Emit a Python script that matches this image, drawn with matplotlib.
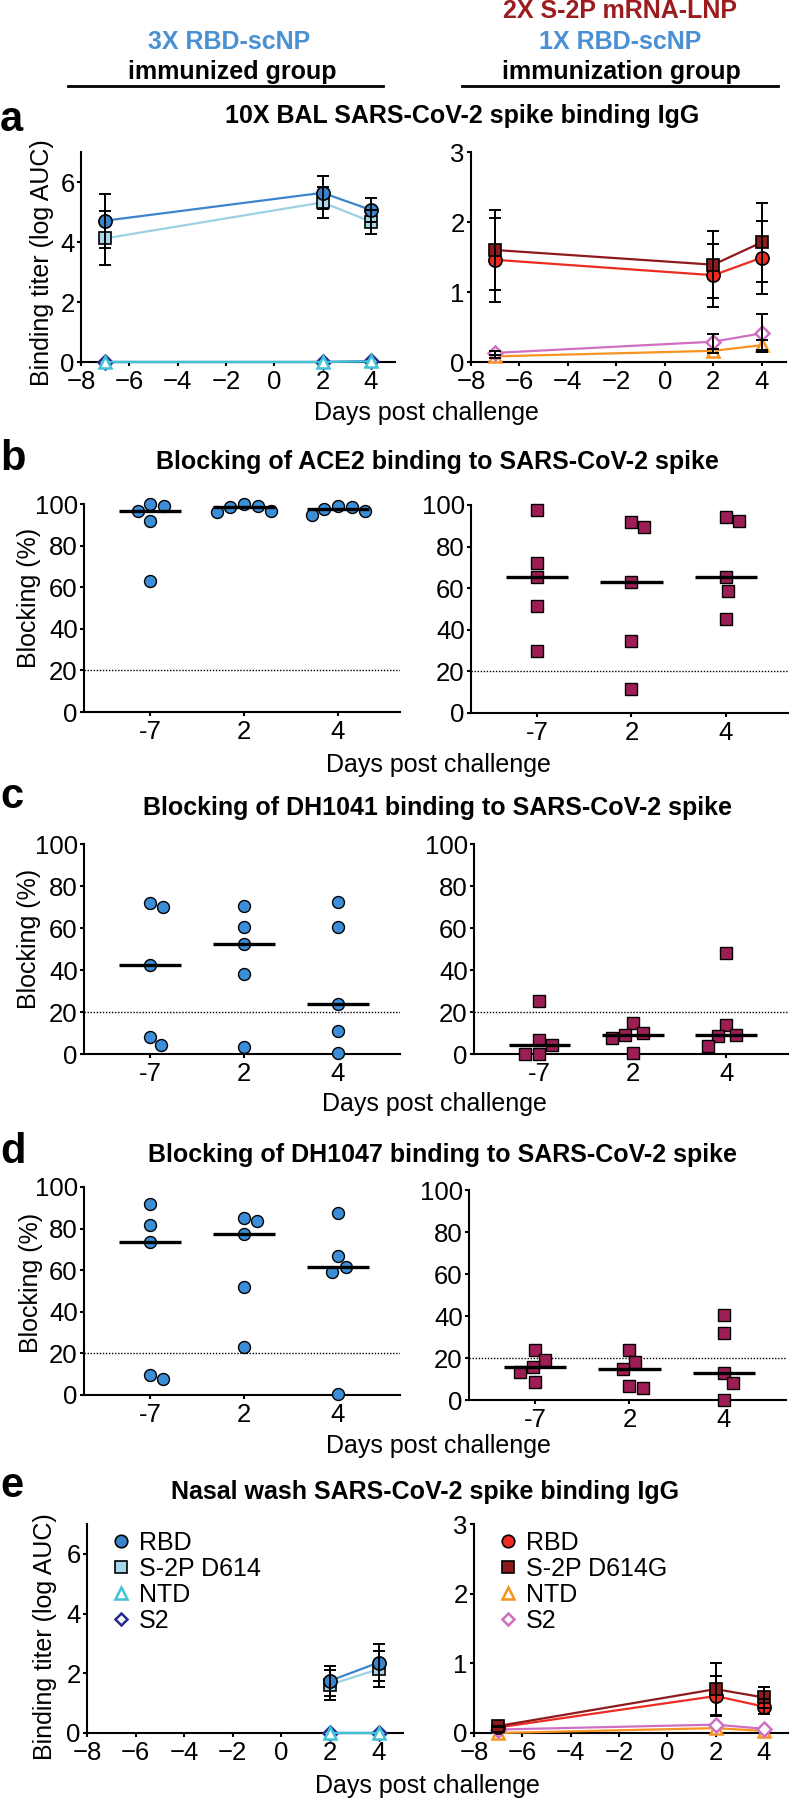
import numpy as np
import matplotlib
matplotlib.use('Agg')
import matplotlib.pyplot as plt
from matplotlib.lines import Line2D

plt.rcParams['font.family'] = ['Liberation Sans', 'DejaVu Sans']

# ---- data ----
days = [-7, 2, 4]
day_labels = ['-7', '2', '4']

# a: 10X BAL binding IgG (log AUC), mean and error
bal_rbd_l = [4.71, 5.64, 5.07]
bal_rbd_l_err = [0.90, 0.55, 0.40]
bal_s2p_l = [4.12, 5.32, 4.68]
bal_s2p_l_err = [0.90, 0.52, 0.40]
bal_ntd_l = [0.0, 0.0, 0.02]
bal_s2_l = [0.0, 0.0, 0.02]

bal_rbd_r = [1.46, 1.24, 1.49]
bal_rbd_r_err = [0.60, 0.45, 0.52]
bal_s2p_r = [1.60, 1.39, 1.71]
bal_s2p_r_err = [0.57, 0.48, 0.56]
bal_ntd_r = [0.08, 0.16, 0.24]
bal_ntd_r_err = [0.02, 0.03, 0.07]
bal_s2_r = [0.13, 0.29, 0.41]
bal_s2_r_err = [0.03, 0.11, 0.27]

# b: ACE2 blocking (%)
ace2_l = [[99.0, 100.0, 96.5, 92.0, 63.0],
          [96.8, 100.0, 98.7, 99.0, 96.3],
          [94.7, 99.0, 96.8, 98.4, 97.6]]
ace2_r = [[97.6, 72.3, 65.3, 51.5, 29.6],
          [92.0, 89.3, 63.2, 34.7, 11.5],
          [94.0, 92.5, 65.3, 58.7, 45.1]]

# c: DH1041 blocking (%)
dh1041_l = [[71.7, 70.2, 42.4, 4.3, 8.3],
            [70.5, 60.6, 52.4, 38.1, 3.5],
            [72.2, 60.3, 23.7, 11.0, 0.3]]
dh1041_r = [[25.2, 6.7, 4.3, 0.0, 0.0],
            [14.6, 9.8, 9.0, 7.8, 0.3],
            [47.9, 13.8, 9.0, 8.5, 3.8]]

# d: DH1047 blocking (%)
dh1047_l = [[92.0, 81.6, 73.6, 9.6, 7.7],
            [85.3, 83.5, 77.6, 52.0, 22.9],
            [87.5, 66.9, 61.3, 59.2, 0.5]]
dh1047_r = [[24.0, 19.2, 15.5, 13.3, 8.8],
            [24.0, 17.9, 14.9, 6.7, 5.6],
            [40.5, 32.0, 12.8, 8.0, 0.0]]

# e: nasal wash binding IgG (log AUC)
nw_rbd_l = [np.nan, 1.75, 2.36]
nw_rbd_l_err = [np.nan, 0.50, 0.62]
nw_s2p_l = [np.nan, 1.62, 2.14]
nw_s2p_l_err = [np.nan, 0.50, 0.60]
nw_ntd_l = [np.nan, 0.0, 0.0]
nw_s2_l = [np.nan, 0.0, 0.0]

nw_rbd_r = [0.08, 0.53, 0.38]
nw_rbd_r_err = [0.0, 0.29, 0.11]
nw_s2p_r = [0.10, 0.63, 0.51]
nw_s2p_r_err = [0.0, 0.37, 0.15]
nw_ntd_r = [0.0, 0.07, 0.03]
nw_s2_r = [0.05, 0.12, 0.06]

legend_l = ['RBD', 'S-2P D614', 'NTD', 'S2']
legend_r = ['RBD', 'S-2P D614G', 'NTD', 'S2']

# ---- colours ----
c_rbd_b = '#3a84cc'
c_s2p_lb = '#a6d8ea'
c_s2p_lb_line = '#9cd0e6'
c_ntd_cyan = '#3fc3d6'
c_s2_navy = '#262d8e'
c_rbd_red = '#ee2b22'
c_s2p_dr = '#8e1a1c'
c_ntd_or = '#f7931e'
c_s2_pink = '#cf6fc1'
c_dot_blue = '#3d8ed8'
c_sq_mauve = '#9d1e55'
c_head_blue = '#4a90d4'
c_head_red = '#9b1b1e'

W, H = 790, 1800
fig = plt.figure(figsize=(W / 100, H / 100), dpi=100)
fig.patch.set_facecolor('white')


def add_ax(x0, x1, y0, y1):
    return fig.add_axes([x0 / W, 1 - y1 / H, (x1 - x0) / W, (y1 - y0) / H])


def style(ax):
    for s in ['top', 'right']:
        ax.spines[s].set_visible(False)
    for s in ['left', 'bottom']:
        ax.spines[s].set_linewidth(1.5)
    ax.tick_params(direction='out', length=3, width=1.5, labelsize=18.5)
    ax.tick_params(axis='y', pad=1.5)
    ax.tick_params(axis='x', pad=3)


def swarm(ys, d):
    # simple beeswarm in pixel units, returns x offsets
    placed = []
    offs = np.zeros(len(ys))
    order = np.argsort(-np.asarray(ys))
    for k in order:
        y = ys[k]
        cands = [0.0]
        for px, py in placed:
            dy = y - py
            if abs(dy) < d:
                dx = np.sqrt(d * d - dy * dy)
                cands += [px + dx, px - dx]
        ok = [c for c in cands
              if all((c - px) ** 2 + (y - py) ** 2 >= d * d - 1e-6 for px, py in placed)]
        best = min(ok, key=lambda c: (round(abs(c), 6), -c))
        offs[k] = best
        placed.append((best, y))
    return offs


def line_panel(ax, series, ymax, yticks):
    for vals, errs, color, fill, marker, ms, hollow in series:
        if hollow:
            ax.plot(days, vals, color=color, lw=1.6, marker=marker, ms=ms,
                    mfc='white', mec=color, mew=1.8, clip_on=False, zorder=3)
        else:
            ax.plot(days, vals, color=color, lw=1.6, marker=marker, ms=ms,
                    mfc=fill, mec='black', mew=1.2, clip_on=False, zorder=3)
        if errs is not None:
            ax.errorbar(days, vals, yerr=errs, fmt='none', ecolor='black',
                        elinewidth=1.4, capsize=4.3, capthick=1.4, zorder=4,
                        clip_on=False)
    ax.set_xlim(-8, 5)
    ax.set_ylim(0, ymax)
    ax.set_xticks(range(-8, 5, 2))
    ax.set_yticks(yticks)
    style(ax)


def scatter_panel(ax, groups, marker, color, ms):
    ax.set_xlim(-0.7, 2.66)
    ax.set_ylim(0, 100)
    bb = ax.get_position()
    px_x = bb.width * W / 3.36
    px_y = bb.height * H / 100
    ax.axhline(20, color='black', lw=1.0, ls=(0, (1, 1.2)), zorder=1)
    for i, vals in enumerate(groups):
        offs = swarm(np.asarray(vals) * px_y, 14.0)
        ax.plot(i + offs / px_x, vals, ls='none', marker=marker, ms=ms,
                mfc=color, mec='black', mew=1.0, clip_on=False, zorder=3)
        ax.hlines(np.median(vals), i - 0.33, i + 0.33, color='black',
                  lw=2.4, zorder=4)
    ax.set_xticks([0, 1, 2])
    ax.set_xticklabels(day_labels)
    ax.set_yticks(range(0, 101, 20))
    style(ax)


# ---- header ----
hdr = dict(fontsize=18, fontweight='bold', ha='center', va='baseline')
fig.text(620 / W, 1 - 18 / H, '2X S-2P mRNA-LNP', color=c_head_red, **hdr)
fig.text(620 / W, 1 - 49 / H, '1X RBD-scNP', color=c_head_blue, **hdr)
fig.text(229 / W, 1 - 49 / H, '3X RBD-scNP', color=c_head_blue, **hdr)
fig.text(232 / W, 1 - 79 / H, 'immunized group', color='black', **hdr)
fig.text(621 / W, 1 - 79 / H, 'immunization group', color='black', **hdr)
for x0, x1 in [(68, 383), (462, 778)]:
    fig.add_artist(Line2D([x0 / W, x1 / W], [1 - 86 / H, 1 - 86 / H],
                          color='black', lw=2.0))


def panel_head(letter, title, xc, base_letter, base_title):
    fig.text(0, 1 - base_letter / H, letter, fontsize=30, fontweight='bold',
             ha='left', va='baseline')
    fig.text(xc / W, 1 - base_title / H, title, fontsize=18, fontweight='bold',
             ha='center', va='baseline')


def xlab(xc, base):
    fig.text(xc / W, 1 - base / H, 'Days post challenge', fontsize=18,
             ha='center', va='baseline')


def ylab(xc, yc, text):
    fig.text(xc / W, 1 - yc / H, text, fontsize=18, rotation=90,
             ha='center', va='center')


# ---- a ----
panel_head('a', '10X BAL SARS-CoV-2 spike binding IgG', 462, 131, 123)
ax = add_ax(81, 395, 152, 362)
line_panel(ax, [
    (bal_s2_l, None, c_s2_navy, None, 'D', 7, True),
    (bal_ntd_l, None, c_ntd_cyan, None, '^', 9, True),
    (bal_s2p_l, bal_s2p_l_err, c_s2p_lb_line, c_s2p_lb, 's', 9, False),
    (bal_rbd_l, bal_rbd_l_err, c_rbd_b, c_rbd_b, 'o', 9.5, False),
], 7, [0, 2, 4, 6])
ax = add_ax(471, 786, 152, 362)
line_panel(ax, [
    (bal_ntd_r, bal_ntd_r_err, c_ntd_or, None, '^', 9, True),
    (bal_s2_r, bal_s2_r_err, c_s2_pink, None, 'D', 7, True),
    (bal_rbd_r, bal_rbd_r_err, c_rbd_red, c_rbd_red, 'o', 9.5, False),
    (bal_s2p_r, bal_s2p_r_err, c_s2p_dr, c_s2p_dr, 's', 9, False),
], 3, [0, 1, 2, 3])
xlab(426, 420)
ylab(42, 263, 'Binding titer (log AUC)')

# ---- b ----
panel_head('b', 'Blocking of ACE2 binding to SARS-CoV-2 spike', 437, 470, 469)
scatter_panel(add_ax(84, 400, 504, 712), ace2_l, 'o', c_dot_blue, 8.6)
scatter_panel(add_ax(471, 788, 505, 713), ace2_r, 's', c_sq_mauve, 9.2)
xlab(438, 772)
ylab(29, 598, 'Blocking (%)')

# ---- c ----
panel_head('c', 'Blocking of DH1041 binding to SARS-CoV-2 spike', 438, 808, 815)
scatter_panel(add_ax(84, 400, 844, 1054), dh1041_l, 'o', c_dot_blue, 8.6)
scatter_panel(add_ax(474, 788, 844, 1054), dh1041_r, 's', c_sq_mauve, 9.2)
xlab(434, 1111)
ylab(29, 939, 'Blocking (%)')

# ---- d ----
panel_head('d', 'Blocking of DH1047 binding to SARS-CoV-2 spike', 442, 1163, 1162)
scatter_panel(add_ax(84, 400, 1187, 1395), dh1047_l, 'o', c_dot_blue, 8.6)
scatter_panel(add_ax(469, 786, 1190, 1400), dh1047_r, 's', c_sq_mauve, 9.2)
xlab(438, 1453)
ylab(31, 1283, 'Blocking (%)')

# ---- e ----
panel_head('e', 'Nasal wash SARS-CoV-2 spike binding IgG', 425, 1497, 1499)
ax = add_ax(87, 403, 1524, 1733)
line_panel(ax, [
    (nw_s2_l, None, c_s2_navy, None, 'D', 7, True),
    (nw_ntd_l, None, c_ntd_cyan, None, '^', 9, True),
    (nw_s2p_l, nw_s2p_l_err, c_s2p_lb_line, c_s2p_lb, 's', 9, False),
    (nw_rbd_l, nw_rbd_l_err, c_rbd_b, c_rbd_b, 'o', 9.5, False),
], 7, [0, 2, 4, 6])
hl = [Line2D([], [], ls='none', marker='o', ms=9, mfc=c_rbd_b, mec='black', mew=1.2),
      Line2D([], [], ls='none', marker='s', ms=9, mfc=c_s2p_lb, mec='black', mew=1.2),
      Line2D([], [], ls='none', marker='^', ms=8, mfc='white', mec=c_ntd_cyan, mew=1.8),
      Line2D([], [], ls='none', marker='D', ms=6.5, mfc='white', mec=c_s2_navy, mew=1.8)]
ax.legend(hl, legend_l, loc='upper left', bbox_to_anchor=(0.03, 1.015), frameon=False,
          fontsize=18, handletextpad=0.1, labelspacing=0.08, handlelength=1.2,
          borderaxespad=0)

ax = add_ax(474, 788, 1524, 1733)
line_panel(ax, [
    (nw_ntd_r, None, c_ntd_or, None, '^', 9, True),
    (nw_s2_r, None, c_s2_pink, None, 'D', 7, True),
    (nw_rbd_r, nw_rbd_r_err, c_rbd_red, c_rbd_red, 'o', 9.5, False),
    (nw_s2p_r, nw_s2p_r_err, c_s2p_dr, c_s2p_dr, 's', 9, False),
], 3, [0, 1, 2, 3])
hr = [Line2D([], [], ls='none', marker='o', ms=9, mfc=c_rbd_red, mec='black', mew=1.2),
      Line2D([], [], ls='none', marker='s', ms=9, mfc=c_s2p_dr, mec='black', mew=1.2),
      Line2D([], [], ls='none', marker='^', ms=8, mfc='white', mec=c_ntd_or, mew=1.8),
      Line2D([], [], ls='none', marker='D', ms=6.5, mfc='white', mec=c_s2_pink, mew=1.8)]
ax.legend(hr, legend_r, loc='upper left', bbox_to_anchor=(0.03, 1.015), frameon=False,
          fontsize=18, handletextpad=0.1, labelspacing=0.08, handlelength=1.2,
          borderaxespad=0)
xlab(427, 1793)
ylab(45, 1637, 'Binding titer (log AUC)')

fig.savefig('out.png', dpi=100, facecolor='white')
